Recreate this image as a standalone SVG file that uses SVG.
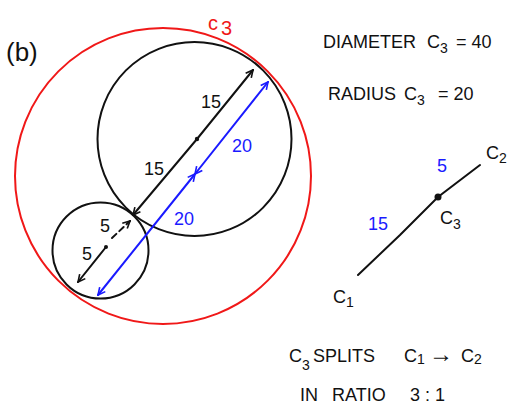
<svg xmlns="http://www.w3.org/2000/svg" width="513" height="405" viewBox="0 0 513 405">
<style>
text{font-family:"Liberation Sans","DejaVu Sans",sans-serif;fill:#111}
.blk{fill:none;stroke:#111;stroke-width:2;stroke-linecap:round}
.blu{fill:none;stroke:#1a1aff;stroke-width:2;stroke-linecap:round}
.red{fill:none;stroke:#f01818;stroke-width:2}
.bt{fill:#1a1aff}
.rt{fill:#f01818}
.t16{font-size:18px}
.t18{font-size:18px}
</style>
<defs>
<marker id="ab" viewBox="0 0 10 10" refX="9" refY="5" markerWidth="9" markerHeight="9" markerUnits="userSpaceOnUse" orient="auto-start-reverse"><path d="M1,1 L9,5 L1,9" fill="none" stroke="#111" stroke-width="1.8"/></marker>
<marker id="au" viewBox="0 0 10 10" refX="9" refY="5" markerWidth="9" markerHeight="9" markerUnits="userSpaceOnUse" orient="auto-start-reverse"><path d="M1,1 L9,5 L1,9" fill="none" stroke="#1a1aff" stroke-width="1.8"/></marker>
</defs>
<rect width="513" height="405" fill="#fff"/>

<text x="6" y="61" style="font-size:26px">(b)</text>

<g id="circle-c3">
<circle class="red" cx="163" cy="176" r="148"/>
<text x="208" y="30" class="rt" style="font-size:20px">c<tspan dx="3" dy="5">3</tspan></text>
</g>
<g id="circle-c2"><circle class="blk" cx="194.5" cy="139" r="97"/></g>
<g id="circle-c1"><circle class="blk" cx="100.5" cy="250.5" r="48"/></g>

<g id="connectors">
<path class="blk" d="M197,139 L253,70" marker-end="url(#ab)"/>
<path class="blk" d="M197,139 L133,215" marker-end="url(#ab)"/>
<circle cx="197" cy="139" r="2.2" fill="#111"/>
<path class="blu" d="M195,174 L268,82" marker-start="url(#au)" marker-end="url(#au)"/>
<path class="blu" d="M98,295 L195,174" marker-start="url(#au)" marker-end="url(#au)"/>
<path class="blk" d="M112,238 L130,221" stroke-dasharray="6 4" marker-end="url(#ab)"/>
<path class="blk" d="M106,247 L78,282" marker-end="url(#ab)"/>
<circle cx="106" cy="247" r="2" fill="#111"/>
</g>

<g id="labels-left">
<text x="201" y="108" class="t16">15</text>
<text x="144" y="175" class="t16">15</text>
<text x="232" y="152" class="t16 bt">20</text>
<text x="174" y="225" class="t16 bt">20</text>
<text x="100" y="232" class="t16">5</text>
<text x="82" y="260" class="t16">5</text>
</g>

<g id="formulas">
<text class="t18" y="48"><tspan x="323">DIAMETER</tspan><tspan x="427">C</tspan><tspan dy="5" style="font-size:14px">3</tspan><tspan x="456" dy="-5">= 40</tspan></text>
<text class="t18" y="100"><tspan x="328">RADIUS</tspan><tspan x="404">C</tspan><tspan dy="5" style="font-size:14px">3</tspan><tspan x="438" dy="-5">= 20</tspan></text>
</g>

<g id="segment-diagram">
<polyline class="blk" points="358,275 400,235 438,197 480,165"/>
<circle cx="438" cy="197" r="3.5" fill="#111"/>
<text x="437" y="172" class="t18 bt">5</text>
<text x="486" y="159" class="t18">C<tspan dy="4" style="font-size:14px">2</tspan></text>
<text x="368" y="230" class="t18 bt">15</text>
<text x="440" y="224" class="t18">C<tspan dy="5" style="font-size:14px">3</tspan></text>
<text x="333" y="303" class="t18">C<tspan dy="4" style="font-size:14px">1</tspan></text>
</g>

<g id="conclusion">
<text class="t18" y="362"><tspan x="289">C</tspan><tspan dy="8" style="font-size:14px">3</tspan><tspan x="313" dy="-8">SPLITS</tspan><tspan x="404">C</tspan><tspan style="font-size:14px" dy="2">1</tspan><tspan x="429" dy="-2" style="font-size:24px">→</tspan><tspan x="461">C</tspan><tspan style="font-size:14px" dy="2">2</tspan></text>
<text class="t18" y="401"><tspan x="300">IN</tspan><tspan x="332">RATIO</tspan><tspan x="410">3 : 1</tspan></text>
</g>
</svg>
